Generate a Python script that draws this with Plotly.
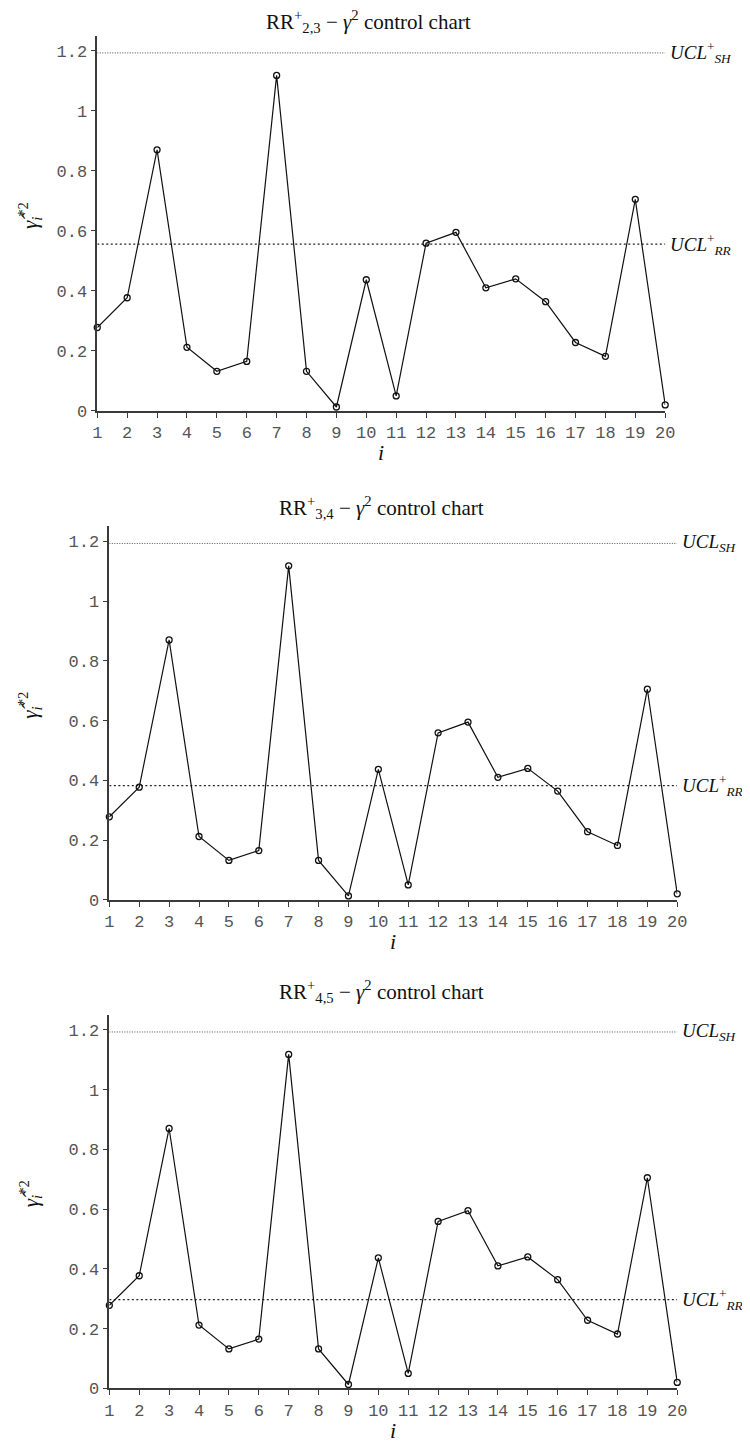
import plotly.graph_objects as go

W, H = 750, 1441

# observation index and the gamma^2 statistic (same series in all three charts)
I = list(range(1, 21))
GAMMA2 = [0.278, 0.377, 0.870, 0.212, 0.132, 0.165, 1.118, 0.132, 0.013, 0.437,
          0.050, 0.559, 0.595, 0.410, 0.440, 0.364, 0.228, 0.182, 0.705, 0.020]

# control limits per chart
UCL_SH = [1.193, 1.193, 1.193]
UCL_RR = [0.556, 0.382, 0.297]
PAIRS = ["2,3", "3,4", "4,5"]
SH_LABELS = ["<i>UCL</i><sup>+</sup><sub><i>SH</i></sub>",
             "<i>UCL</i><sub><i>SH</i></sub>",
             "<i>UCL</i><sub><i>SH</i></sub>"]
RR_LABEL = "<i>UCL</i><sup>+</sup><sub><i>RR</i></sub>"

YTICKS = [0, 0.2, 0.4, 0.6, 0.8, 1, 1.2]
YTICKTEXT = ["0", "0.2", "0.4", "0.6", "0.8", "1", "1.2"]

# pixel boxes of the three plot areas: (left, right, top, bottom)
BOXES = [(86, 665.5, 28, 406), (98.3, 677.8, 522.4, 898.7), (98.3, 677.8, 1014.7, 1391)]
TITLE_POS = [(363, 14), (376, 503), (376, 991)]

SERIF = "Liberation Serif, DejaVu Serif, serif"
MONO = "Liberation Mono, DejaVu Sans Mono, monospace"
AXC = "#3a3a3a"

fig = go.Figure()
ann = []
layout = {}
for k in range(3):
    n = "" if k == 0 else str(k + 1)
    xa, ya = "x" + n, "y" + n
    l, r, t, b = BOXES[k]
    layout["xaxis" + n] = dict(
        domain=[l / W, r / W], anchor=ya, range=[1, 20], tickvals=I,
        showline=True, linecolor=AXC, linewidth=1.5, ticks="outside", ticklen=5,
        tickcolor=AXC, tickwidth=1.3, showgrid=False, zeroline=False,
        tickfont=dict(family=MONO, size=17, color="#555"))
    layout["yaxis" + n] = dict(
        domain=[1 - b / H, 1 - t / H], anchor=xa, range=[0, 1.25],
        tickvals=YTICKS, ticktext=YTICKTEXT,
        showline=True, linecolor=AXC, linewidth=1.5, ticks="outside", ticklen=5,
        tickcolor=AXC, tickwidth=1.3, showgrid=False, zeroline=False,
        tickfont=dict(family=MONO, size=17, color="#555"))

    # control limits
    fig.add_trace(go.Scatter(x=[I[0], I[-1]], y=[UCL_SH[k]] * 2, xaxis=xa, yaxis=ya,
                             mode="lines", line=dict(color="#222", width=0.8, dash="1px,1.5px"),
                             hoverinfo="skip", showlegend=False))
    fig.add_trace(go.Scatter(x=[I[0], I[-1]], y=[UCL_RR[k]] * 2, xaxis=xa, yaxis=ya,
                             mode="lines", line=dict(color="#222", width=1.3, dash="2px,2.5px"),
                             hoverinfo="skip", showlegend=False))
    # statistic
    fig.add_trace(go.Scatter(x=I, y=GAMMA2, xaxis=xa, yaxis=ya, mode="lines+markers",
                             line=dict(color="#111", width=1.2),
                             marker=dict(symbol="circle-open", size=6, color="#111",
                                         line=dict(width=1.3)),
                             cliponaxis=False, showlegend=False))

    xd, yd = xa + " domain", ya + " domain"
    ann.append(dict(xref=xd, yref=ya, x=1, y=UCL_SH[k], xanchor="left", yanchor="middle",
                    xshift=3, text=SH_LABELS[k], showarrow=False,
                    font=dict(family=SERIF, size=19, color="#111")))
    ann.append(dict(xref=xd, yref=ya, x=1, y=UCL_RR[k], xanchor="left", yanchor="middle",
                    xshift=3, text=RR_LABEL, showarrow=False,
                    font=dict(family=SERIF, size=19, color="#111")))
    tx, ty = TITLE_POS[k]
    ann.append(dict(xref="paper", yref="paper", x=tx / W, y=1 - ty / H, xanchor="center",
                    yanchor="middle", showarrow=False,
                    text=f"RR<sup>+</sup><sub>{PAIRS[k]}</sub> − <i>γ</i><sup>2</sup> control chart",
                    font=dict(family=SERIF, size=21, color="#111")))
    ann.append(dict(xref=xd, yref=yd, x=0.5, y=0, xanchor="center", yanchor="middle",
                    yshift=-42, text="<i>i</i>", showarrow=False,
                    font=dict(family=SERIF, size=22, color="#111")))
    ann.append(dict(xref=xd, yref=yd, x=0, y=0.52, xanchor="center", yanchor="middle",
                    xshift=-l + 19, textangle=-90, showarrow=False,
                    text="<i>γ̂</i><sub><i>i</i></sub><sup>*2</sup>",
                    font=dict(family=SERIF, size=21, color="#111")))

fig.update_layout(width=W, height=H, margin=dict(l=0, r=0, t=0, b=0),
                  plot_bgcolor="white", paper_bgcolor="white",
                  annotations=ann, **layout)
fig.write_html("out.html")
